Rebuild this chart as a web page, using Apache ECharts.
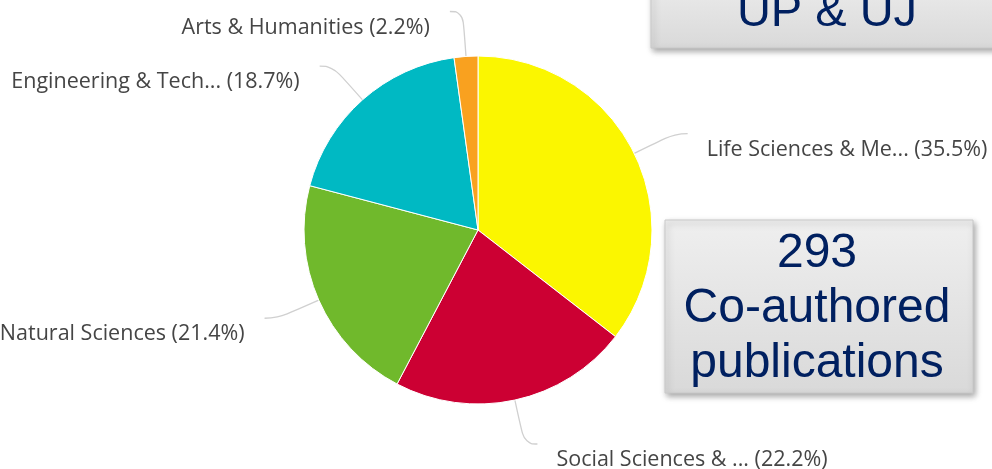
<!DOCTYPE html>
<html>
<head>
<meta charset="utf-8">
<script src="https://cdn.jsdelivr.net/npm/echarts@6/dist/echarts.min.js"></script>
<style>
html,body{margin:0;padding:0;background:#fff;}
#c{width:992px;height:469px;}
</style>
</head>
<body>
<div id="c"></div>
<script>
const categories = ['Life Sciences & Me...', 'Social Sciences & ...', 'Natural Sciences', 'Engineering & Tech...', 'Arts & Humanities'];
const shares = [35.5, 22.2, 21.4, 18.7, 2.2];
const colors = ['#fbf600', '#cc0033', '#70b92c', '#00b9c3', '#f9a11f'];
const boxTop = ['UP & UJ'];
const boxBottom = ['293', 'Co-authored', 'publications'];

const chart = echarts.init(document.getElementById('c'), null, {renderer: 'canvas'});
const labelFont = '"Open Sans", "Noto Sans", sans-serif';
const boxFont = '"Liberation Sans", Arial, sans-serif';

const option = {
  animation: false,
  series: [{
    type: 'pie',
    center: [478, 230],
    radius: [0, 174],
    startAngle: 90,
    clockwise: true,
    avoidLabelOverlap: false,
    data: categories.map((n, i) => ({name: n, value: shares[i], itemStyle: {color: colors[i]}})),
    itemStyle: {borderColor: '#ffffff', borderWidth: 1},
    label: {
      formatter: p => p.name + ' (' + p.value.toFixed(1) + '%)',
      color: '#454545',
      fontSize: 21.5,
      fontFamily: labelFont
    },
    labelLine: {
      length: 45,
      length2: 13,
      smooth: 0.5,
      lineStyle: {color: '#d0d0d0', width: 1.3}
    }
  }],
  graphic: [
    {
      type: 'rect',
      shape: {x: 651, y: -20, width: 360, height: 68},
      style: {
        fill: new echarts.graphic.LinearGradient(0, 0, 0, 1, [{offset: 0, color: '#ececec'}, {offset: 1, color: '#d9d9d9'}]),
        stroke: '#c9c9c9', lineWidth: 1,
        shadowBlur: 6, shadowOffsetX: 2, shadowOffsetY: 3, shadowColor: 'rgba(0,0,0,0.35)'
      }
    },
    {
      type: 'text',
      x: 827, y: 37,
      style: {text: boxTop[0], font: '47px ' + boxFont, fill: '#002060', align: 'center', verticalAlign: 'bottom'}
    },
    {
      type: 'rect',
      shape: {x: 665, y: 220, width: 308, height: 173},
      style: {
        fill: new echarts.graphic.LinearGradient(0, 0, 0, 1, [{offset: 0, color: '#efefef'}, {offset: 1, color: '#d9d9d9'}]),
        stroke: '#c9c9c9', lineWidth: 1,
        shadowBlur: 6, shadowOffsetX: 2, shadowOffsetY: 3, shadowColor: 'rgba(0,0,0,0.35)'
      }
    },
    {
      type: 'text', x: 817, y: 226,
      style: {text: boxBottom.join('\n'), font: '48px ' + boxFont, lineHeight: 55, fill: '#002060', align: 'center', verticalAlign: 'top'}
    }
  ]
};
chart.setOption(option);
chart.setOption({
  series: [{
    labelLayout: function (p) {
      const pts = p.labelLinePoints;
      if (!pts) return {};
      const end = pts[pts.length - 1];
      const right = end[0] > 478;
      return {
        x: end[0] + (right ? 19 : -20),
        y: end[1] + 16,
        align: right ? 'left' : 'right',
        verticalAlign: 'middle',
        labelLinePoints: pts
      };
    }
  }]
});
</script>
</body>
</html>
